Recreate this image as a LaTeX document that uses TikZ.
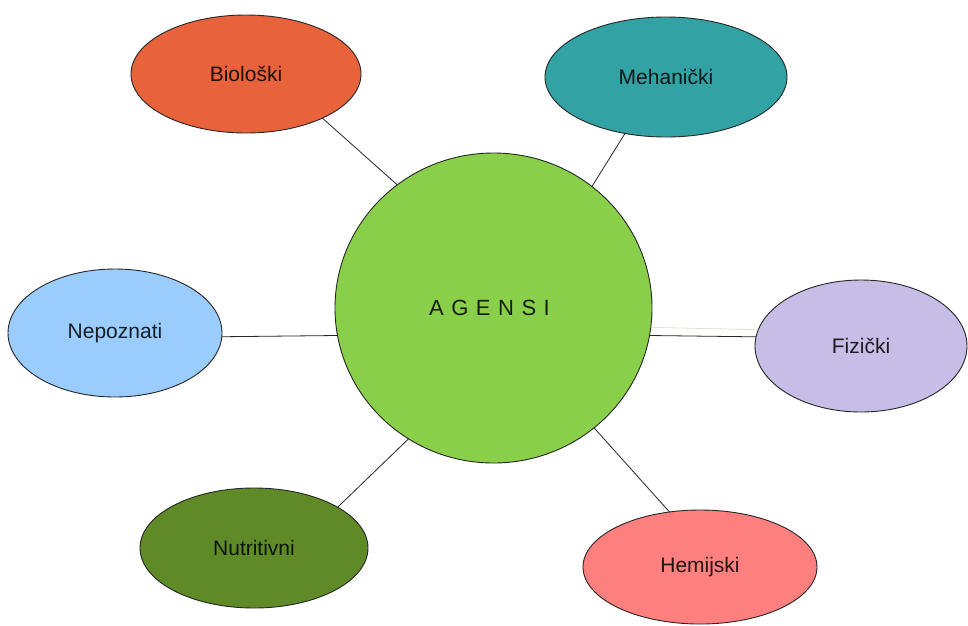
\documentclass[tikz,border=0pt]{standalone}
\usepackage{fontspec}
\setmainfont{Liberation Sans}
\usetikzlibrary{shapes.geometric}
\definecolor{cCenter}{HTML}{8ACF4A}
\definecolor{cBio}{HTML}{E8623C}
\definecolor{cMeh}{HTML}{33A2A4}
\definecolor{cNep}{HTML}{9ACCFD}
\definecolor{cFiz}{HTML}{C6BEE6}
\definecolor{cNut}{HTML}{5E8A28}
\definecolor{cHem}{HTML}{FD7F7E}
\definecolor{cFaint}{HTML}{E4E0CC}
\begin{document}
\begin{tikzpicture}[x=1pt,y=-1pt,
  blob/.style={ellipse, draw=black!85, line width=0.9pt, inner sep=0pt, outer sep=0pt,
    font=\fontsize{21}{25}\selectfont, text=black, text opacity=0.85},
  link/.style={draw=black!85, line width=0.8pt}]
\useasboundingbox (0,0) rectangle (968,625);
\fill[white] (0,0) rectangle (968,625);
\node[blob, fill=cCenter, minimum width=317pt, minimum height=310pt,
  font=\fontsize{22}{26}\selectfont] (c) at (493.5,308)
  {\hspace{-8pt}A\hspace{7.5pt}G\hspace{7.5pt}E\hspace{7.5pt}N\hspace{7.5pt}S\hspace{7.5pt}I};
\node[blob, fill=cBio, minimum width=230pt, minimum height=118pt] (bio) at (246,74) {Biološki};
\node[blob, fill=cMeh, minimum width=242pt, minimum height=120pt] (meh) at (666,77) {Mehanički};
\node[blob, fill=cNep, minimum width=214pt, minimum height=128pt] (nep) at (115,333) {Nepoznati};
\node[blob, fill=cFiz, minimum width=212pt, minimum height=132pt] (fiz) at (861,346) {Fizički};
\node[blob, fill=cNut, minimum width=228pt, minimum height=120pt] (nut) at (254,548) {Nutritivni};
\node[blob, fill=cHem, minimum width=234pt, minimum height=114pt] (hem) at (700,567) {Hemijski};
\draw[link] (c.128.7) -- (bio.-30.9);
\draw[link] (c.51.8) -- (meh.-126.2);
\draw[link] (c.190.55) -- (nep.-2.14);
\draw[link] (c.-10.55) -- (fiz.175.1);
\draw[cFaint, line width=0.8pt] (c.-7.98) -- (fiz.171.15);
\draw[link] (c.237.5) -- (nut.26.8);
\draw[link] (c.-50.5) -- (hem.119.7);
\end{tikzpicture}
\end{document}
